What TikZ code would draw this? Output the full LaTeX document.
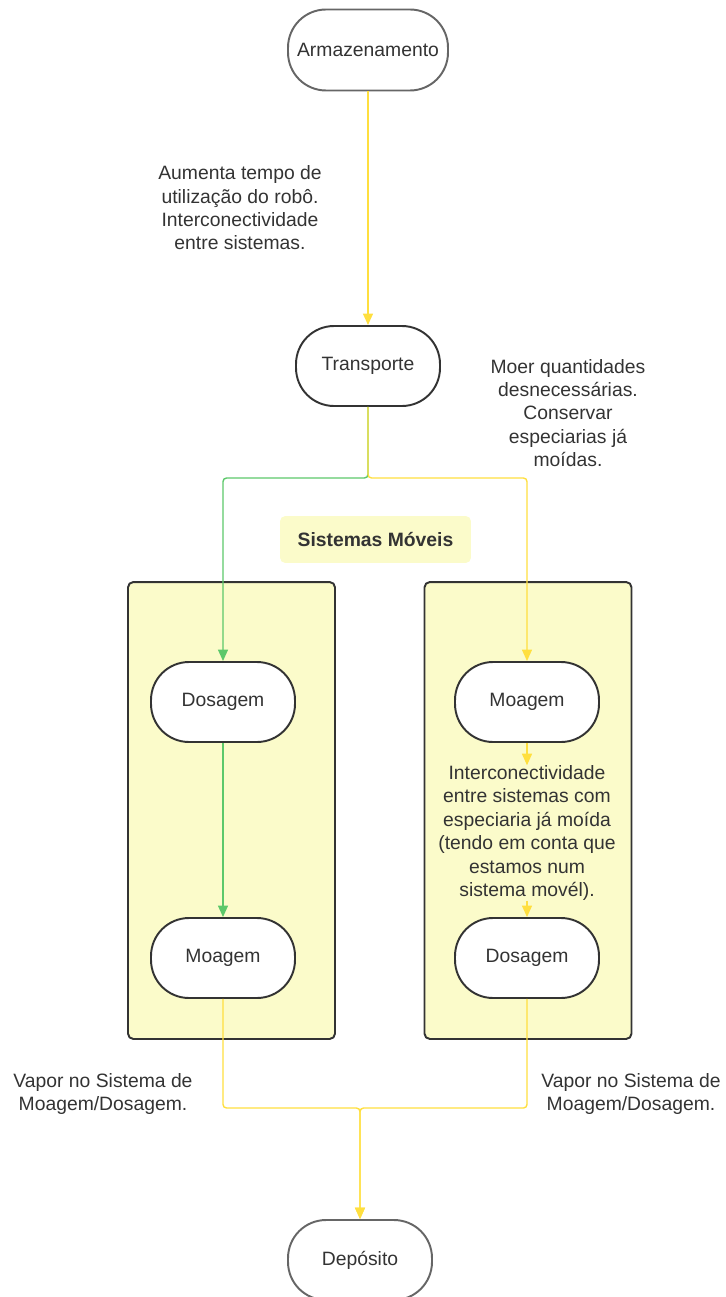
\documentclass[tikz,border=0pt]{standalone}
\usepackage{fontspec}
\setmainfont{Liberation Sans}
\usetikzlibrary{positioning,arrows.meta}
\definecolor{lucidyel}{HTML}{FFDF3F}
\definecolor{lucidgrn}{HTML}{5CC86A}
\definecolor{boxfill}{HTML}{FBFBCA}
\definecolor{inkdark}{HTML}{333333}
\definecolor{inkgray}{HTML}{666666}
\newcommand{\fsz}{\fontsize{11}{13.3}\selectfont}

\begin{document}
\begin{tikzpicture}[x=0.02cm,y=-0.02cm,
  t/.style={draw=inkdark,fill=white,rounded corners=0.76cm,line width=1.1pt,minimum width=2.88cm,
            minimum height=1.6cm,align=center,font=\fsz,text=inkdark,inner sep=2pt},
  tg/.style={t,draw=inkgray},
  sys/.style={draw=inkdark,fill=boxfill,rounded corners=3pt,line width=1.1pt,minimum width=4.14cm,
              minimum height=9.14cm},
  lbl/.style={align=center,font=\fsz,text=inkdark,inner sep=1pt},
  ay/.style={-{Triangle[length=2.3mm,width=2mm]},lucidyel,line width=0.8pt,rounded corners=2pt},
  ag/.style={ay,lucidgrn}]
\useasboundingbox (0,0) rectangle (726,1297);
% frames of the two mobile systems
\node[sys] (boxL) at (231.5,810.5) {};
\node[sys] (boxR) at (528,810.5) {};
\node[fill=boxfill,rounded corners=3pt,minimum width=3.82cm,minimum height=0.94cm,
      font=\fsz\bfseries,text=inkdark] (title) at (375.5,539.5) {Sistemas Móveis};
% flow nodes
\node[tg,minimum width=3.2cm,minimum height=1.62cm] (arm) at (368,50) {Armazenamento};
\node[t] (tr) at (368,366) {Transporte};
\node[t] (doL) at (223,702) {Dosagem};
\node[t] (moL) at (223,958) {Moagem};
\node[t] (moR) at (527,702) {Moagem};
\node[t] (doR) at (527,958) {Dosagem};
\node[tg] (dep) at (360,1260) {Depósito};
\coordinate (jt) at (368,478);
\coordinate (jb) at (360,1108);
% notes
\node[lbl] (n1) at (240,208) {Aumenta tempo de\\utilização do robô.\\Interconectividade\\entre sistemas.};
\node[lbl] (n2) at (568,413) {Moer quantidades\\desnecessárias.\\Conservar\\especiarias já\\moídas.};
\node[lbl,inner sep=0pt] (n3) at (527,833) {Interconectividade\\entre sistemas com\\especiaria já moída\\(tendo em conta que\\estamos num\\sistema movél).};
\node[lbl] (n4) at (103,1094) {Vapor no Sistema de\\Moagem/Dosagem.};
\node[lbl] (n5) at (631,1094) {Vapor no Sistema de\\Moagem/Dosagem.};
% connectors
\draw[ay] (arm)--(tr);
\draw[ag] (tr.south)--(jt)-|(doL.north);
\draw[ay] (tr.south)--(jt)-|(moR.north);
\draw[ag] (doL)--(moL);
\draw[ay] (moR.south)--(moR.south|-n3.north);
\draw[ay] (n3.south-|doR.north)--(doR.north);
\draw[ay] (moL.south)|-(jb)--(dep.north);
\draw[ay] (doR.south)|-(jb)--(dep.north);
\end{tikzpicture}
\end{document}
